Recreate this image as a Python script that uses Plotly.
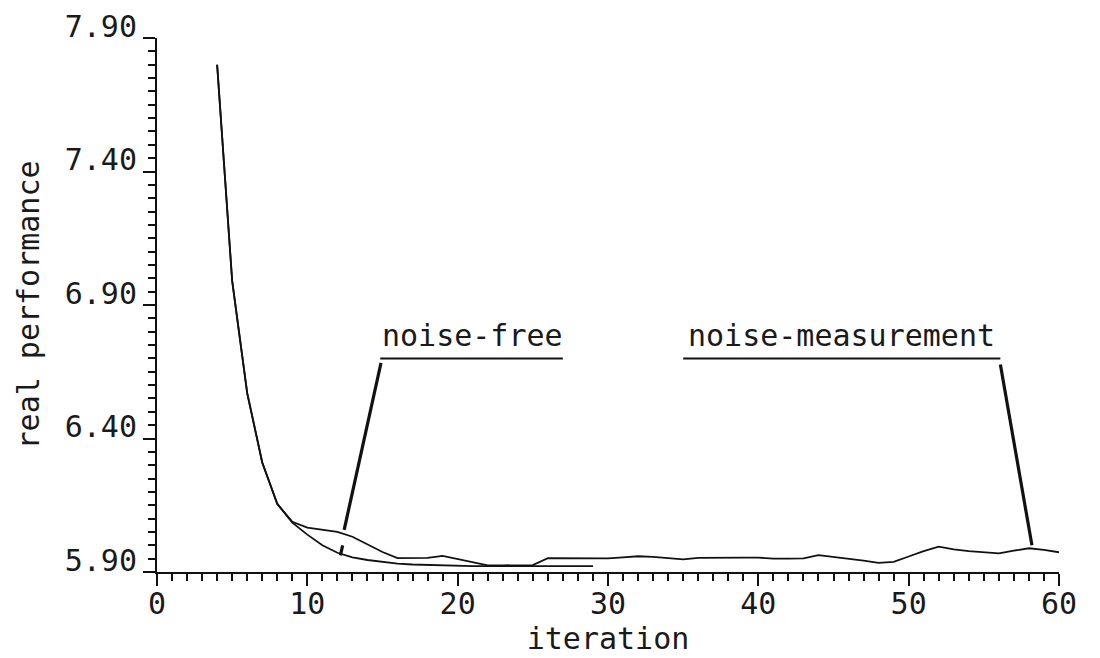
import plotly.graph_objects as go

# ---- data ----
iter_free = list(range(4, 30))
perf_free = [7.80, 6.99, 6.57, 6.31, 6.155, 6.085, 6.040, 6.000, 5.972, 5.955,
             5.945, 5.937, 5.931, 5.928, 5.926, 5.924, 5.923, 5.922, 5.922, 5.922,
             5.922, 5.922, 5.922, 5.922, 5.922, 5.922]

iter_noise = list(range(4, 61))
perf_noise = [7.80, 6.99, 6.57, 6.31, 6.155, 6.088,
              6.066, 6.058, 6.050, 6.032, 6.005, 5.975, 5.952, 5.952, 5.953, 5.960,
              5.948, 5.935, 5.925, 5.925, 5.925, 5.926, 5.952, 5.952, 5.950, 5.950,
              5.951, 5.955, 5.959, 5.957, 5.953, 5.947, 5.953, 5.954, 5.954, 5.954,
              5.954, 5.950, 5.950, 5.951, 5.963, 5.957, 5.950, 5.943, 5.934, 5.938,
              5.958, 5.978, 5.995, 5.985, 5.978, 5.973, 5.970, 5.980, 5.989, 5.983,
              5.974]

y_ticks = [5.90, 6.40, 6.90, 7.40, 7.90]
y_ticktext = ["5.90", "6.40", "6.90", "7.40", "7.90"]
x_ticks = [0, 10, 20, 30, 40, 50, 60]

label_free = "noise-free"
label_noise = "noise-measurement"
free_text_pos = (20.96, 6.785)
free_underline = (14.85, 27.0, 6.70)
free_pointer = [(14.9, 6.683, 12.45, 6.058), (12.35, 6.000, 12.20, 5.962)]
noise_text_pos = (45.5, 6.785)
noise_underline = (35.0, 56.1, 6.70)
noise_pointer = [(56.1, 6.677, 58.2, 6.000)]

FONT = "DejaVu Sans Mono"
INK = "#111111"
TEXT = "#1a1a1a"

fig = go.Figure()
fig.add_trace(go.Scatter(x=iter_free, y=perf_free, mode="lines",
                         line=dict(color=INK, width=1.8), name=label_free,
                         showlegend=False))
fig.add_trace(go.Scatter(x=iter_noise, y=perf_noise, mode="lines",
                         line=dict(color=INK, width=1.8), name=label_noise,
                         showlegend=False))

for (tx, ty), text in [(free_text_pos, label_free), (noise_text_pos, label_noise)]:
    fig.add_annotation(x=tx, y=ty, text=text, showarrow=False,
                       font=dict(family=FONT, size=30, color=TEXT),
                       xanchor="center", yanchor="middle")
for x0, x1, yy in [free_underline, noise_underline]:
    fig.add_shape(type="line", x0=x0, x1=x1, y0=yy, y1=yy, xref="x", yref="y",
                  line=dict(color=INK, width=2))
for segs in [free_pointer, noise_pointer]:
    for x0, y0, x1, y1 in segs:
        fig.add_shape(type="line", x0=x0, y0=y0, x1=x1, y1=y1, xref="x", yref="y",
                      line=dict(color=INK, width=3.2))

fig.update_layout(
    width=1100, height=658,
    margin=dict(l=157, r=41, t=38, b=86, autoexpand=False),
    paper_bgcolor="white", plot_bgcolor="white",
    font=dict(family=FONT, size=30, color=TEXT),
    showlegend=False,
)
fig.update_xaxes(
    range=[0, 60], tickvals=x_ticks, ticks="outside", ticklen=12, tickwidth=2,
    tickcolor=INK, showline=True, linecolor=INK, linewidth=2, showgrid=False,
    zeroline=False, automargin=False, ticklabelstandoff=-8,
    tickfont=dict(family=FONT, size=30, color=TEXT),
    minor=dict(dtick=1, ticks="outside", ticklen=7, tickwidth=1.5, tickcolor=INK,
               showgrid=False),
    title=dict(text="iteration", font=dict(family=FONT, size=30, color=TEXT), standoff=6),
)
fig.update_yaxes(
    range=[5.90, 7.90], tickvals=y_ticks, ticktext=y_ticktext, ticks="outside",
    ticklen=12, tickwidth=2, tickcolor=INK, showline=True, linecolor=INK,
    linewidth=2, showgrid=False, zeroline=False, ticklabelshift=-12, automargin=False,
    tickfont=dict(family=FONT, size=30, color=TEXT),
    minor=dict(dtick=0.05, tick0=5.90, ticks="outside", ticklen=7, tickwidth=1.5,
               tickcolor=INK, showgrid=False),
    title=dict(text="real performance", font=dict(family=FONT, size=30, color=TEXT),
               standoff=16),
)

fig.write_html("out.html")
